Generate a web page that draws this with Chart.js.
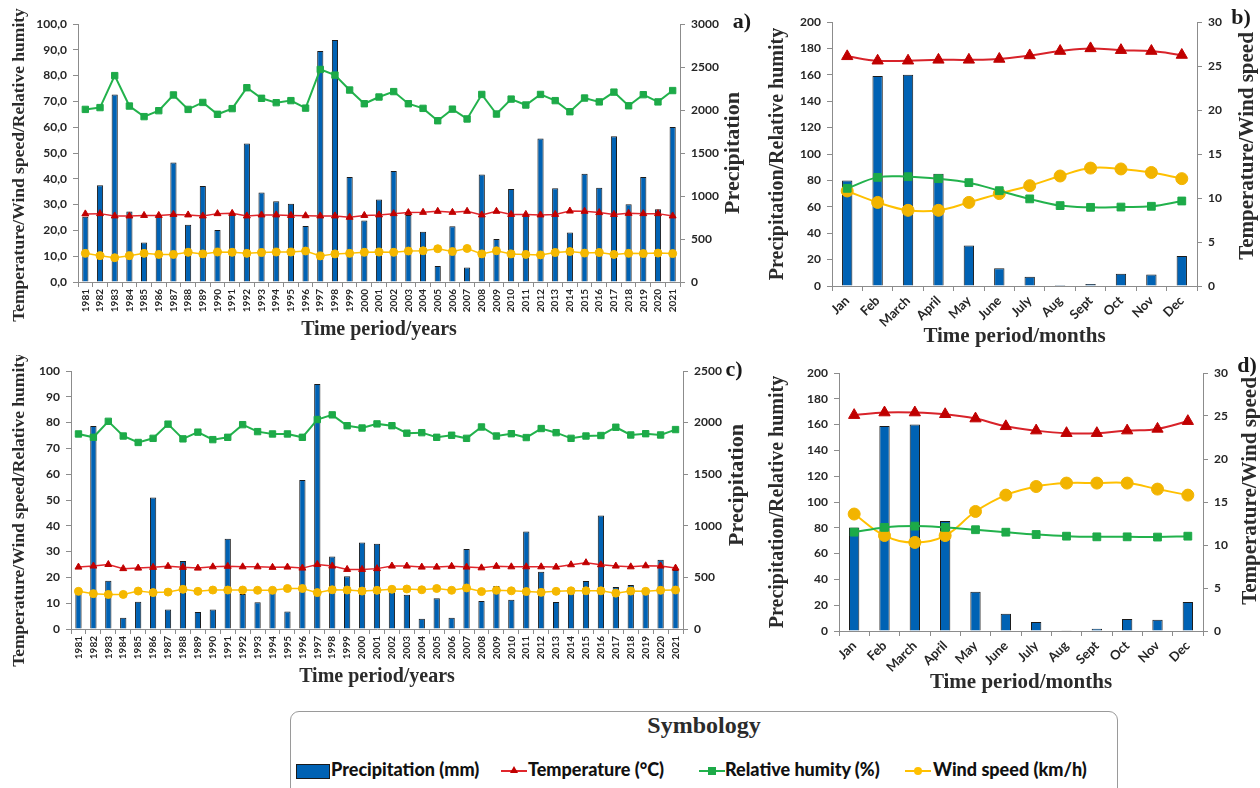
<!DOCTYPE html>
<html>
<head>
<meta charset="utf-8">
<script src="https://cdn.jsdelivr.net/npm/chart.js@4.4.1/dist/chart.umd.min.js"></script>
<style>
  body { margin: 0; background: #fff; width: 1260px; height: 788px; position: relative; overflow: hidden; }
  canvas { position: absolute; }
  #legend {
    position: absolute; left: 290px; top: 711px; width: 828px; height: 100px;
    border: 1px solid #9a9a9a; border-radius: 9px; box-sizing: border-box;
    font-family: Lato, 'DejaVu Sans', sans-serif; font-weight: bold;
  }
  #legend .ltitle { text-align: center; font: bold 24px 'Liberation Serif', serif; color: #2b2b2b; margin-top: 0px; }
  #legend .it { position: absolute; top: 46px; white-space: nowrap; font-size: 18px; font-weight: 900; color: #111; line-height: 22px; }
  #legend .swatch { position: absolute; top: 52px; left: 5px; width: 32px; height: 13px; background: #0062B4; border: 1px solid #1b1b1b; }
  #legend .ln { position: absolute; top: 58px; width: 26px; height: 2px; }
  #legend .mk { position: absolute; left: 9px; top: -3px; width: 8px; height: 8px; }
</style>
</head>
<body>
<canvas id="chartA" width="760" height="346" style="left:0;top:0"></canvas>
<canvas id="chartB" width="500" height="353" style="left:760px;top:0"></canvas>
<canvas id="chartC" width="760" height="338" style="left:0;top:355px"></canvas>
<canvas id="chartD" width="500" height="344" style="left:760px;top:355px"></canvas>

<div id="legend">
  <div class="ltitle">Symbology</div>
  <span class="swatch"></span><span class="it" style="left:40px">Precipitation (mm)</span>
  <span class="ln" style="left:210px;background:#E0262C"><span class="mk" style="width:0;height:0;top:-4px;border-left:4px solid transparent;border-right:4px solid transparent;border-bottom:7px solid #C00000"></span></span>
  <span class="it" style="left:237px">Temperature (°C)</span>
  <span class="ln" style="left:408px;background:#22B24C"><span class="mk" style="background:#1DAA48"></span></span>
  <span class="it" style="left:434px">Relative humity (%)</span>
  <span class="ln" style="left:614px;background:#FFC000"><span class="mk" style="background:#FFC000;border-radius:50%"></span></span>
  <span class="it" style="left:642px">Wind speed (km/h)</span>
</div>

<script>
// categories
const years = ['1981','1982','1983','1984','1985','1986','1987','1988','1989','1990',
  '1991','1992','1993','1994','1995','1996','1997','1998','1999','2000',
  '2001','2002','2003','2004','2005','2006','2007','2008','2009','2010',
  '2011','2012','2013','2014','2015','2016','2017','2018','2019','2020','2021'];
const months = ['Jan','Feb','March','April','May','June','July','Aug','Sept','Oct','Nov','Dec'];

// panel a) - yearly
const precipA = [760,1125,2180,820,460,770,1390,665,1115,605,
  780,1610,1040,940,910,650,2685,2815,1220,715,
  960,1290,780,585,185,648,170,1250,500,1080,
  787,1670,1090,577,1260,1097,1694,903,1221,845,1802];
const tempA = [26.4,26.5,25.6,25.6,25.8,25.8,26.2,26.0,25.6,26.5,
  26.6,25.6,26.0,26.0,25.8,25.7,25.6,25.6,25.1,25.8,
  26.0,26.5,26.9,27.0,27.4,27.0,27.4,26.0,27.4,26.2,
  26.2,26.0,26.2,27.5,27.4,26.9,26.2,26.6,26.5,26.5,25.6];
const humidA = [66.9,67.6,80.0,68.2,64.1,66.4,72.5,66.9,69.6,65.0,
  67.2,75.3,71.2,69.5,70.3,67.4,82.4,80.2,74.4,69.1,
  71.7,73.8,69.1,67.3,62.5,67.0,63.2,72.7,65.1,70.9,
  68.6,72.7,70.3,66.0,71.3,69.8,73.6,68.3,72.6,69.8,74.2];
const windA = [11.1,10.2,9.4,10.2,11.1,10.7,10.7,11.5,10.9,11.6,
  11.5,11.1,11.4,11.6,11.6,12.0,10.1,10.9,11.1,11.5,
  11.6,11.5,12.0,12.1,12.9,11.8,13.0,10.9,12.1,10.9,
  10.7,10.5,11.4,11.8,11.2,11.4,10.7,11.1,11.0,11.2,11.0];

// panel c) - yearly
const precipC = [375,1968,468,108,263,1275,190,658,165,188,
  875,338,258,355,170,1445,2375,703,510,838,
  825,370,332,100,297,110,774,271,416,284,
  945,555,261,360,465,1100,406,426,339,671,571];
const tempC = [24.0,24.4,25.0,23.4,23.6,23.9,24.3,23.9,23.6,24.1,
  24.3,24.1,24.1,23.9,24.0,23.6,25.0,24.4,23.1,23.1,
  23.4,24.4,24.4,24.0,24.0,24.3,24.0,23.7,24.3,24.1,
  24.1,24.1,24.0,24.9,25.7,24.9,24.4,24.1,24.5,24.4,23.6];
const humidC = [75.6,74.3,80.5,74.8,72.3,73.9,79.4,73.7,76.3,73.4,
  74.3,79.2,76.5,75.6,75.6,74.3,81.2,83.0,78.8,77.9,
  79.5,78.8,75.9,76.1,74.3,75.1,73.9,78.3,74.8,75.7,
  74.2,77.7,76.1,73.9,74.8,75.0,78.2,75.2,75.7,75.2,77.3];
const windC = [14.6,13.7,13.4,13.4,14.7,14.1,14.3,15.4,14.6,15.1,
  15.1,15.1,15.0,15.0,15.7,15.7,14.1,15.2,15.1,14.7,
  15.0,15.4,15.5,15.2,15.7,15.0,15.9,14.5,15.0,14.8,
  14.5,14.2,14.6,14.8,14.8,14.8,13.9,14.7,14.6,15.0,15.1];

// panel b) - monthly
const precipB = [80,159,160,85,30.6,13.4,7.1,0.8,1.5,9.3,8.8,22.7];
const humidB = [74,82.3,82.8,81.3,78.3,72.2,66,60.9,59.6,59.8,60.4,64.4];
const tempB = [26.1,25.6,25.6,25.7,25.7,25.8,26.2,26.7,27,26.8,26.7,26.25];
const windB = [10.8,9.5,8.6,8.6,9.5,10.5,11.4,12.5,13.4,13.3,12.9,12.2];

// panel d) - monthly
const precipD = [80.3,159,160,85.2,30.5,13.4,7,0.5,1.8,9.3,8.8,22.5];
const humidD = [76.6,80.3,81.3,80.3,78.5,76.6,74.8,73.5,73,73,72.8,73.5];
const tempD = [25.1,25.4,25.4,25.2,24.7,23.8,23.3,23,23,23.3,23.5,24.4];
const windD = [13.6,11.1,10.3,11.1,13.9,15.8,16.8,17.2,17.2,17.2,16.5,15.8];

const tickFont = "Lato, 'DejaVu Sans', sans-serif";
const titleFont = "'Liberation Serif', 'DejaVu Serif', serif";
const BLUE = '#0062B4';

// side axis titles (both read bottom to top) and the panel letter
function vText(ctx, text, size, x, y) {
  ctx.save();
  ctx.fillStyle = '#2b2b2b';
  ctx.textAlign = 'center';
  ctx.textBaseline = 'middle';
  ctx.font = 'bold ' + size + 'px ' + titleFont;
  ctx.translate(x, y);
  ctx.rotate(-Math.PI / 2);
  ctx.fillText(text, 0, 0);
  ctx.restore();
}

const extraText = {
  id: 'extraText',
  afterDraw(chart, args, o) {
    const ctx = chart.ctx;
    const mid = (chart.chartArea.top + chart.chartArea.bottom) / 2;
    vText(ctx, o.left, o.lsize, o.lx, mid + o.ldy);
    vText(ctx, o.right, o.rsize, o.rx, mid + o.rdy);
    ctx.save();
    ctx.fillStyle = '#1a1a1a';
    ctx.font = 'bold 22px ' + titleFont;
    ctx.textAlign = 'center';
    ctx.textBaseline = 'middle';
    ctx.fillText(o.tag, o.tagX, o.tagY);
    ctx.restore();
  }
};

function yScale(pos, max, step, width, fmt) {
  return {
    position: pos, min: 0, max: max,
    afterFit: s => { s.width = width; },
    border: { display: true, color: '#8c8c8c' },
    grid: { drawOnChartArea: false, drawTicks: true, tickLength: 5, color: '#8c8c8c' },
    ticks: { stepSize: step, padding: 6, color: '#262626', font: { family: tickFont, size: 12, weight: 'bold' },
      callback: fmt }
  };
}

function xScale(rot, height, text, fsize, tsize) {
  return {
    afterFit: s => { s.height = height; },
    border: { display: true, color: '#8c8c8c' },
    grid: { drawOnChartArea: false, drawTicks: true, tickLength: 5, color: '#8c8c8c', offset: true },
    ticks: { autoSkip: false, minRotation: rot, maxRotation: rot, padding: 2, color: '#262626',
      font: { family: tickFont, size: fsize, weight: 'bold' } },
    title: { display: true, text: text, color: '#2b2b2b', padding: { top: 4, bottom: 4 },
      font: { family: titleFont, size: tsize, weight: 'bold' } }
  };
}

function lineSet(label, data, axis, color, ptColor, style, r, w, smooth) {
  return {
    type: 'line', label: label, data: data, yAxisID: axis,
    borderColor: color, borderWidth: w, backgroundColor: ptColor,
    pointBackgroundColor: ptColor, pointBorderColor: ptColor, pointBorderWidth: 1,
    pointStyle: style, pointRadius: r, tension: smooth ? 0.4 : 0, order: 1
  };
}

function yearChart(id, precip, temp, humid, wind, c) {
  new Chart(document.getElementById(id), {
    type: 'bar',
    data: {
      labels: years,
      datasets: [
        lineSet('Temperature (°C)', temp, 'y', '#E0262C', '#C00000', 'triangle', 4, 1.5, false),
        lineSet('Relative humity (%)', humid, 'y', '#22B24C', '#1DAA48', 'rect', 4.5, 2, false),
        lineSet('Wind speed (km/h)', wind, 'y', '#FFC000', '#F5B800', 'circle', 4, 1.5, false),
        { type: 'bar', label: 'Precipitation (mm)', data: precip, yAxisID: 'y1', backgroundColor: BLUE,
          borderColor: '#1b1b1b', borderWidth: 1, barPercentage: 0.42, categoryPercentage: 1, order: 5 }
      ]
    },
    options: {
      responsive: false, animation: false,
      layout: { padding: { top: c.top, left: 0, right: 0, bottom: 0 } },
      plugins: { legend: { display: false }, tooltip: { enabled: false },
        extraText: { left: 'Temperature/Wind speed/Relative humity', lsize: 17.5, lx: 19, ldy: c.ldy,
          right: 'Precipitation', rsize: 22, rx: c.rtx, rdy: c.rdy, tag: c.tag, tagX: c.tagX, tagY: c.tagY } },
      scales: {
        x: xScale(90, 64, 'Time period/years', 10, 20),
        y: yScale('left', 100, 10, c.leftW, c.fmt),
        y1: yScale('right', c.pmax, 500, c.rightW, v => v)
      }
    },
    plugins: [extraText]
  });
}

function monthChart(id, precip, temp, humid, wind, c) {
  new Chart(document.getElementById(id), {
    type: 'bar',
    data: {
      labels: months,
      datasets: [
        lineSet('Temperature (°C)', temp, 'y1', '#D8232A', '#C00000', 'triangle', 6.5, 2, true),
        lineSet('Relative humity (%)', humid, 'y', '#22B24C', '#1DAA48', 'rect', 5.5, 2, true),
        lineSet('Wind speed (km/h)', wind, 'y1', '#FFC000', '#F2B400', 'circle', 6, 2, true),
        { type: 'bar', label: 'Precipitation (mm)', data: precip, yAxisID: 'y', backgroundColor: BLUE,
          borderColor: '#1b1b1b', borderWidth: 1, barPercentage: 0.34, categoryPercentage: 1, order: 5 }
      ]
    },
    options: {
      responsive: false, animation: false,
      layout: { padding: { top: c.top, left: 0, right: 0, bottom: 0 } },
      plugins: { legend: { display: false }, tooltip: { enabled: false },
        extraText: { left: 'Precipitation/Relative humity', lsize: 20, lx: 18, ldy: 0,
          right: 'Temperature/Wind speed', rsize: 21, rx: c.rtx, rdy: c.rdy, tag: c.tag, tagX: c.tagX, tagY: c.tagY } },
      scales: {
        x: xScale(45, c.xH, 'Time period/months', 13, 21),
        y: yScale('left', 200, 20, c.leftW, v => v),
        y1: yScale('right', 30, 5, c.rightW, v => v)
      }
    },
    plugins: [extraText]
  });
}

yearChart('chartA', precipA, tempA, humidA, windA, {
  top: 24, leftW: 78, rightW: 80, pmax: 3000, rtx: 733, rdy: 0, ldy: 12, tag: 'a)', tagX: 742, tagY: 22,
  fmt: v => v.toFixed(1).replace('.', ',')
});
yearChart('chartC', precipC, tempC, humidC, windC, {
  top: 16, leftW: 71, rightW: 77, pmax: 2500, rtx: 737, rdy: -15, ldy: 10, tag: 'c)', tagX: 734, tagY: 15,
  fmt: v => v
});
monthChart('chartB', precipB, tempB, humidB, windB, {
  top: 22, leftW: 72, rightW: 63, xH: 67, rtx: 488, rdy: -8, tag: 'b)', tagX: 481, tagY: 18
});
monthChart('chartD', precipD, tempD, humidD, windD, {
  top: 18, leftW: 79, rightW: 57, xH: 68, rtx: 491, rdy: -11, tag: 'd)', tagX: 487, tagY: 11
});
</script>
</body>
</html>
